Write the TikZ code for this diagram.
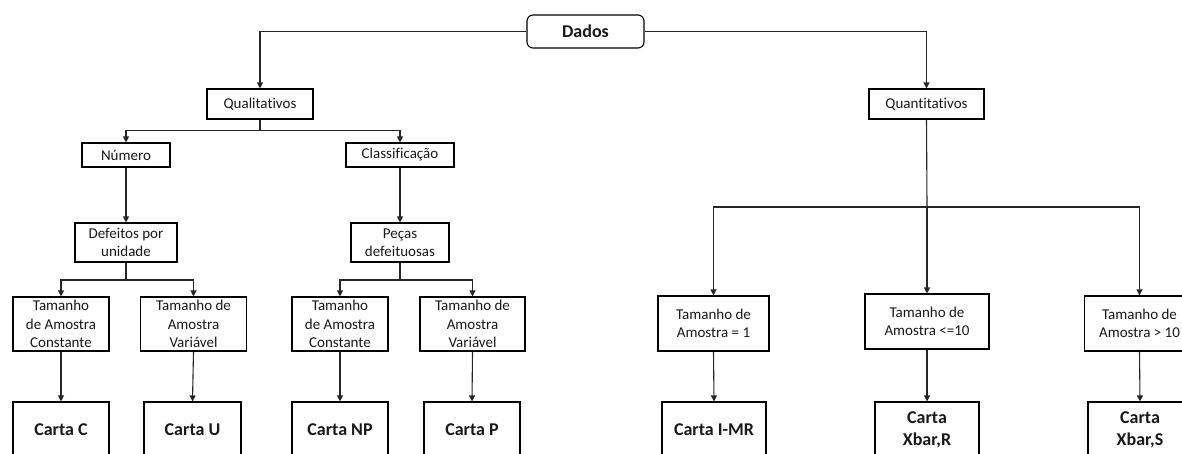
\documentclass[tikz,border=0pt]{standalone}
\usepackage{fontspec}
\setmainfont{Carlito}[Ligatures={NoCommon}]
\usetikzlibrary{arrows.meta}
\begin{document}
\begin{tikzpicture}[x=1pt,y=-1pt,
  box/.style={draw=black, line width=1.1pt, inner sep=0pt, align=center,
    font=\fontsize{15}{18.5}\selectfont, text=black!90},
  cartabox/.style={box, font=\fontsize{18}{22}\selectfont\bfseries},
  conn/.style={draw=black!85, line width=1.1pt},
  arr/.style={conn, -{Triangle[length=6pt,width=6pt]}}]
\clip (0,0) rectangle (1182,453);
\fill[white] (0,0) rectangle (1182,453);
% top
\node[box, rounded corners=6pt, minimum width=117pt, minimum height=33pt,
  font=\fontsize{18}{22}\selectfont\bfseries] (dados) at (585.5,31.5) {Dados};
\node[box, minimum width=106pt, minimum height=30pt] (qual) at (260,104) {Qualitativos};
\node[box, minimum width=115pt, minimum height=30pt] (quan) at (926.5,104) {Quantitativos};
% qualitative branch
\node[box, minimum width=88pt, minimum height=24pt] (num) at (126,155) {Número};
\node[box, minimum width=108pt, minimum height=24pt] (cla) at (400,155) {Classificação};
\node[box, minimum width=102pt, minimum height=39pt] (def) at (126,242.5) {Defeitos por\\unidade};
\node[box, minimum width=98pt, minimum height=39pt] (pec) at (400,242.5) {Peças\\defeituosas};
\node[box, minimum width=96pt, minimum height=54pt] (tc1) at (61,324) {Tamanho\\de Amostra\\Constante};
\node[box, minimum width=106pt, minimum height=54pt] (tv1) at (193.5,324) {Tamanho de\\Amostra\\Variável};
\node[box, minimum width=96pt, minimum height=54pt] (tc2) at (340,324) {Tamanho\\de Amostra\\Constante};
\node[box, minimum width=105pt, minimum height=54pt] (tv2) at (472.5,324) {Tamanho de\\Amostra\\Variável};
% quantitative branch
\node[box, minimum width=111pt, minimum height=55pt] (t1) at (713.5,323.5) {Tamanho de\\Amostra = 1};
\node[box, minimum width=124pt, minimum height=55pt] (t2) at (927,321.5) {Tamanho de\\Amostra <=10};
\node[box, minimum width=110pt, minimum height=55pt] (t3) at (1139.5,323.5) {Tamanho de\\Amostra > 10};
% charts
\node[cartabox, minimum width=96pt, minimum height=56pt] (cc) at (61,430) {Carta C};
\node[cartabox, minimum width=97pt, minimum height=56pt] (cu) at (192.5,430) {Carta U};
\node[cartabox, minimum width=96pt, minimum height=56pt] (cnp) at (340,430) {Carta NP};
\node[cartabox, minimum width=96pt, minimum height=56pt] (cp) at (472,430) {Carta P};
\node[cartabox, minimum width=104pt, minimum height=56pt] (cimr) at (714,430) {Carta I-MR};
\node[cartabox, minimum width=104pt, minimum height=56pt] (cxr) at (927,430) {Carta\\Xbar,R};
\node[cartabox, minimum width=104pt, minimum height=56pt] (cxs) at (1140,430) {Carta\\Xbar,S};
% junctions
\coordinate (qj) at (260,130.7);
\coordinate (dj) at (126,280);
\coordinate (pj) at (400,280);
\coordinate (nj) at (927,207);
% connectors
\draw[arr] (dados.west) -| (qual.north);
\draw[arr] (dados.east) -| (quan.north);
\draw[conn] (qual.south) -- (qj);
\draw[arr] (qj) -| (num.north);
\draw[arr] (qj) -| (cla.north);
\draw[arr] (num.south) -- (def.north);
\draw[arr] (cla.south) -- (pec.north);
\draw[conn] (def.south) -- (dj);
\draw[arr] (dj) -| (tc1.north);
\draw[arr] (dj) -| (tv1.north);
\draw[conn] (pec.south) -- (pj);
\draw[arr] (pj) -| (tc2.north);
\draw[arr] (pj) -| (tv2.north);
\draw[arr] (tc1.south) -- (cc.north);
\draw[arr] (tv1.south) -- (cu.north);
\draw[arr] (tc2.south) -- (cnp.north);
\draw[arr] (tv2.south) -- (cp.north);
\draw[conn] (quan.south) -- (nj);
\draw[arr] (nj) -| (t1.north);
\draw[arr] (nj) -- (t2.north);
\draw[arr] (nj) -| (t3.north);
\draw[arr] (t1.south) -- (cimr.north);
\draw[arr] (t2.south) -- (cxr.north);
\draw[arr] (t3.south) -- (cxs.north);
\end{tikzpicture}
\end{document}
